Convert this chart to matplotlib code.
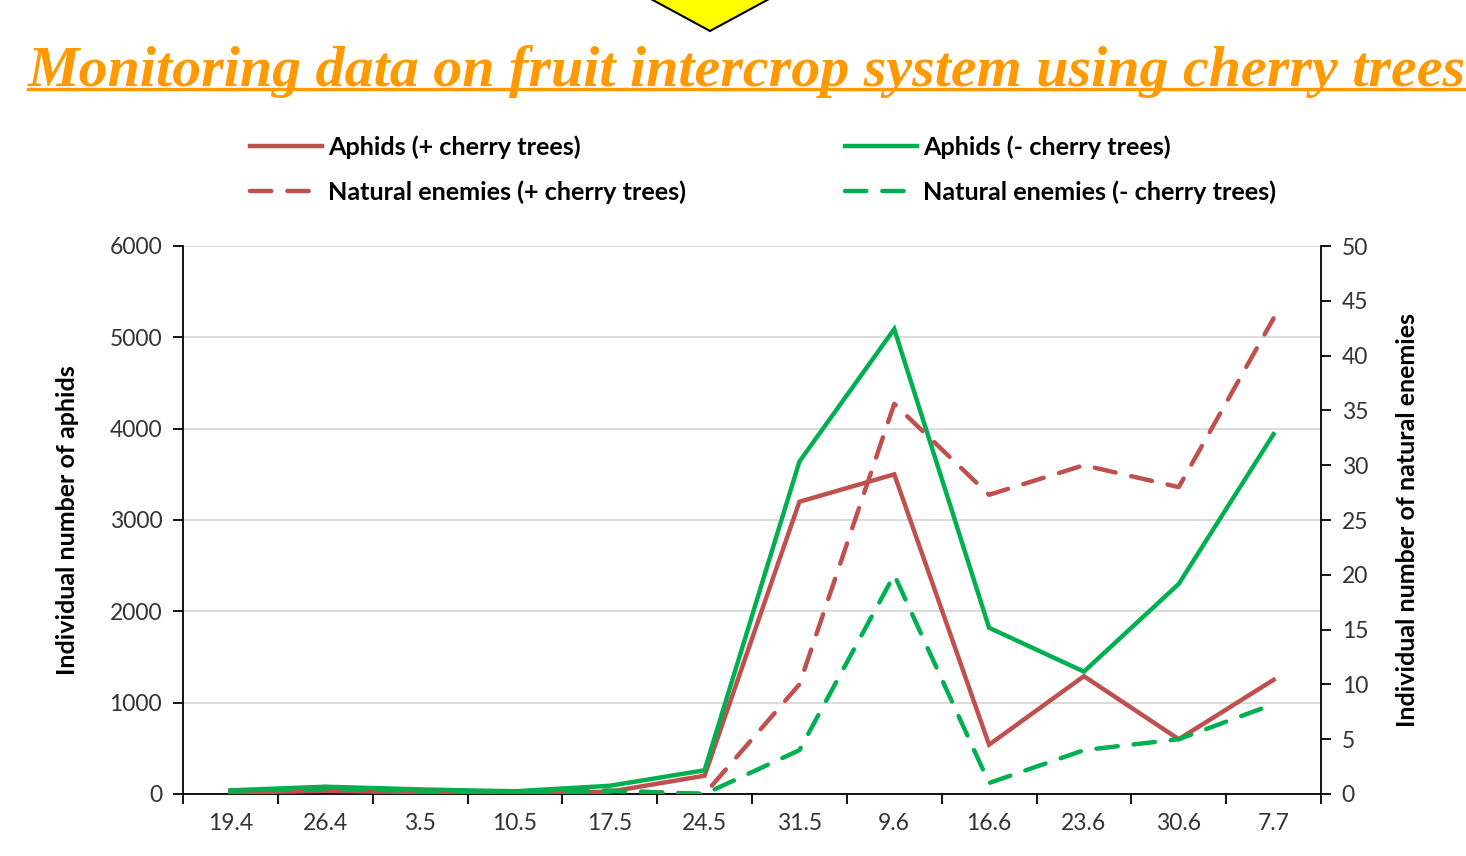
import matplotlib
matplotlib.use("Agg")
import matplotlib.pyplot as plt
from matplotlib.patches import Polygon
from matplotlib.lines import Line2D
import numpy as np

categories = ["19.4", "26.4", "3.5", "10.5", "17.5", "24.5", "31.5", "9.6", "16.6", "23.6", "30.6", "7.7"]
aphids_plus = [15, 35, 20, 10, 25, 200, 3200, 3500, 540, 1290, 600, 1250]
aphids_minus = [40, 80, 50, 30, 90, 260, 3640, 5090, 1820, 1340, 2300, 3940]
enemies_plus = [0.3, 0.5, 0.3, 0.2, 0.3, 0.0, 10, 35.6, 27.3, 30, 28, 43.4]
enemies_minus = [0.3, 0.5, 0.3, 0.2, 0.3, 0.0, 4, 20, 1, 4, 5, 8.2]

RED = "#C0504D"
GREEN = "#00B050"
FONT = "Lato"

fig = plt.figure(figsize=(14.66, 8.56), dpi=100)
W, H = 1466, 856
ax = fig.add_axes([183 / W, 1 - 794 / H, (1321 - 183) / W, (794 - 246) / H])
ax2 = ax.twinx()

x = np.arange(len(categories))
lw = 3.2
dash = (4.8, 3.6)
l1, = ax.plot(x, aphids_plus, color=RED, lw=lw, solid_joinstyle="miter", zorder=3)
l2, = ax.plot(x, aphids_minus, color=GREEN, lw=lw, solid_joinstyle="miter", zorder=3)
l3, = ax2.plot(x, enemies_plus, color=RED, lw=lw, dashes=dash, dash_capstyle="round", zorder=3)
l4, = ax2.plot(x, enemies_minus, color=GREEN, lw=lw, dashes=dash, dash_capstyle="round", zorder=3)

ax.set_xlim(-0.5, len(categories) - 0.5)
ax.set_ylim(0, 6000)
ax2.set_ylim(0, 50)
ax.set_yticks(np.arange(0, 6001, 1000))
ax2.set_yticks(np.arange(0, 51, 5))
ax.yaxis.grid(True, color="#D9D9D9", lw=1.3)
ax.set_axisbelow(True)

ax.set_xticks(x)
ax.set_xticklabels(categories)
ax.set_xticks(np.arange(-0.5, len(categories) + 0.5, 1), minor=True)
ax.tick_params(axis="x", which="major", length=0, pad=14)
ax.tick_params(axis="x", which="minor", length=7, width=1.3, direction="out", color="black")
ax.tick_params(axis="y", length=7, width=1.3, direction="out", pad=8)
ax2.tick_params(axis="y", length=7, width=1.3, direction="out", pad=8)

for a in (ax, ax2):
    a.spines["top"].set_visible(False)
    for s in ("left", "right", "bottom"):
        a.spines[s].set_linewidth(1.3)
        a.spines[s].set_color("black")
ax2.spines["left"].set_visible(False)
ax2.spines["bottom"].set_visible(False)
ax.spines["right"].set_visible(False)

for lab in ax.get_xticklabels() + ax.get_yticklabels() + ax2.get_yticklabels():
    lab.set_fontfamily(FONT)
    lab.set_fontsize(16.5)
    lab.set_color("#333333")

ax.set_ylabel("Individual number of aphids", fontfamily=FONT, fontsize=18, fontweight="bold", labelpad=22)
ax2.set_ylabel("Individual number of natural enemies", fontfamily=FONT, fontsize=18, fontweight="bold", labelpad=20)

# Legend
leg = fig.legend([l1, l3, l2, l4],
                 ["Aphids (+ cherry trees)", "Natural enemies (+ cherry trees)",
                  "Aphids (- cherry trees)", "Natural enemies (- cherry trees)"],
                 ncol=2, loc="center left", bbox_to_anchor=(250 / W, 1 - 170 / H),
                 frameon=False, handlelength=2.85, handletextpad=0.24, columnspacing=6.3,
                 labelspacing=0.85, borderpad=0, borderaxespad=0,
                 prop={"family": FONT, "weight": "bold", "size": 18.2})

# Title
title = fig.text(28 / W, 1 - 86 / H, "Monitoring data on fruit intercrop system using cherry trees",
                 fontfamily="Liberation Serif", fontstyle="italic", fontweight="bold",
                 fontsize=34, color="#FF9900", ha="left", va="baseline")
fig.canvas.draw()
bb = title.get_window_extent()
sx = (1466 - 28) / bb.width
title.set_fontsize(34 * sx)
fig.canvas.draw()
bb = title.get_window_extent()
fig.add_artist(Line2D([28 / W, bb.x1 / W], [1 - 89 / H, 1 - 89 / H], color="#FF9900", lw=2.4,
                      transform=fig.transFigure))

# Yellow arrow at top
tri = Polygon([[637 / W, 1.01], [783 / W, 1.01], [710 / W, 1 - 31 / H]], closed=True,
              facecolor="#FFFF00", edgecolor="black", lw=1.5, transform=fig.transFigure)
fig.add_artist(tri)

fig.savefig("out.png", dpi=100)
